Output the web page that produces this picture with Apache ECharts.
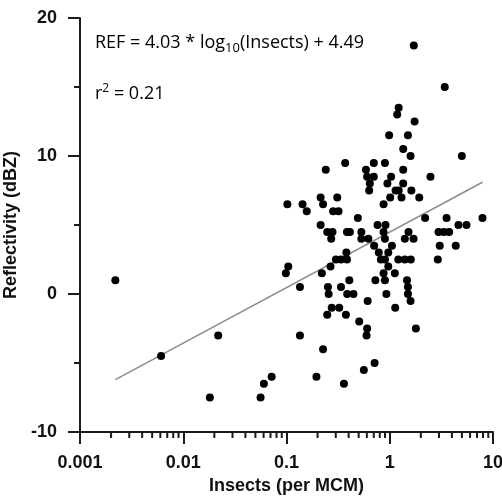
<!DOCTYPE html>
<html>
<head>
<meta charset="utf-8">
<script src="https://cdn.jsdelivr.net/npm/echarts@6/dist/echarts.min.js"></script>
<style>
  html, body { margin: 0; padding: 0; background: #fff; }
  #chart { width: 502px; height: 496px; }
</style>
</head>
<body>
<div id="chart"></div>
<script>
// insects per MCM (x) and reflectivity in dBZ (y)
const insects = [
  0.0022, 0.0061, 0.0218, 0.0181, 0.0561, 0.0604, 0.0718,
  0.370, 0.240, 0.588, 0.701, 0.604, 0.701, 0.641, 0.632, 0.102, 0.143, 0.157, 0.214, 0.226, 0.310,
  0.283, 0.319, 0.491, 0.214, 0.248, 0.279, 0.271, 0.385, 0.411, 0.531, 0.531, 0.621, 0.706, 0.380,
  0.301, 0.337, 0.385, 0.267, 0.104, 0.0986, 0.220, 0.135, 0.252, 0.337, 0.406, 0.726, 0.256, 0.387,
  0.445, 0.611, 0.274, 0.324, 0.248, 0.376, 0.506, 0.604, 0.596, 0.135, 0.226, 0.713, 0.561, 0.195, 0.360,
  1.71, 3.41, 1.22, 1.18, 1.74, 0.986, 1.50, 1.35, 1.59, 4.99, 0.898, 1.35, 1.03, 2.48, 0.949, 1.35,
  1.14, 1.22, 1.62, 1.01, 1.30, 1.93, 0.871, 2.20, 3.55, 7.91, 4.63, 5.54, 0.762, 0.910, 0.871, 1.52,
  2.97, 3.34, 3.76, 0.898, 1.40, 1.70, 1.05, 3.05, 4.36, 0.783, 0.968, 0.821, 0.898, 1.21, 1.40, 1.60,
  2.92, 0.968, 0.871, 1.12, 0.898, 1.47, 1.50, 1.50, 0.927, 1.59, 1.13, 1.79
]
const reflectivity = [
  1.0, -4.5, -3.0, -7.5, -7.5, -6.5, -6.0,
  9.5, 9.0, 9.0, 9.5, 8.5, 8.5, 8.0, 7.5, 6.5, 6.5, 6.0, 7.0, 6.5, 7.0,
  6.0, 6.0, 5.5, 5.0, 4.5, 4.5, 4.0, 4.5, 4.5, 4.5, 4.0, 4.0, 3.5, 3.0,
  2.5, 2.5, 2.5, 2.0, 2.0, 1.5, 1.5, 0.5, 0.5, 0.5, 1.0, 1.0, 0.0, 0.0,
  0.0, -0.5, -1.0, -1.0, -1.5, -1.5, -2.0, -2.5, -3.0, -3.0, -4.0, -5.0, -5.5, -6.0, -6.5,
  18.0, 15.0, 13.5, 13.0, 12.5, 11.5, 11.5, 10.5, 10.0, 10.0, 9.5, 9.0, 8.5, 8.5, 8.0, 8.0,
  7.5, 7.5, 7.5, 7.0, 7.0, 7.0, 6.5, 5.5, 5.5, 5.5, 5.0, 5.0, 5.0, 5.0, 4.5, 4.5,
  4.5, 4.5, 4.5, 4.0, 4.0, 4.0, 3.5, 3.5, 3.5, 3.0, 3.0, 2.5, 2.5, 2.5, 2.5, 2.5,
  2.5, 2.0, 1.5, 1.5, 1.0, 1.0, 0.5, 0.0, 0.0, -0.5, -1.0, -2.5
]

// regression line end points
const fitInsects = [0.0022, 7.9]
const fitRef = [-6.2, 8.1]

const yTicks = [-10, 0, 10, 20]
const xMinorTicks = [
  0.002, 0.003, 0.004, 0.005, 0.006, 0.007, 0.008, 0.009,
  0.02, 0.03, 0.04, 0.05, 0.06, 0.07, 0.08, 0.09,
  0.2, 0.3, 0.4, 0.5, 0.6, 0.7, 0.8, 0.9,
  2, 3, 4, 5, 6, 7, 8, 9
]

const axisColor = '#1a1a1a'
const labelFont = { color: '#111', fontSize: 18, fontWeight: 'bold', fontFamily: 'Liberation Sans, Arial, sans-serif' }
const noteFont = { fontFamily: 'Open Sans, sans-serif', fontWeight: 500, fill: '#000' }

const chart = echarts.init(document.getElementById('chart'))

const option = {
  animation: false,
  backgroundColor: '#fff',
  grid: { left: 80, right: 9, top: 18, bottom: 64, outerBoundsMode: 'none', containLabel: false },
  xAxis: {
    type: 'log',
    logBase: 10,
    min: 0.001,
    max: 10,
    splitNumber: 4,
    name: 'Insects (per MCM)',
    nameLocation: 'middle',
    nameGap: 45,
    nameTextStyle: labelFont,
    axisLine: { show: true, onZero: false, lineStyle: { color: axisColor, width: 2 } },
    axisTick: { show: true, inside: false, length: 12, lineStyle: { color: axisColor, width: 2 } },
    axisLabel: Object.assign({ margin: 22, formatter: v => String(parseFloat(Number(v).toPrecision(6))) }, labelFont),
    splitLine: { show: false }
  },
  yAxis: {
    type: 'value',
    min: yTicks[0],
    max: yTicks[yTicks.length - 1],
    interval: 10,
    name: 'Reflectivity (dBZ)',
    nameLocation: 'middle',
    nameGap: 55,
    nameTextStyle: labelFont,
    axisLine: { show: true, onZero: false, lineStyle: { color: axisColor, width: 2 } },
    axisTick: { show: true, inside: false, length: 12, lineStyle: { color: axisColor, width: 2 } },
    minorTick: { show: true, splitNumber: 2, length: 6, lineStyle: { color: axisColor, width: 2 } },
    axisLabel: Object.assign({ margin: 23 }, labelFont),
    splitLine: { show: false }
  },
  graphic: [
    {
      type: 'text',
      left: 95,
      top: 34,
      style: {
        text: '{a|REF = 4.03 * log}{s|10}{a|(Insects) + 4.49}',
        rich: {
          a: Object.assign({ fontSize: 18 }, noteFont),
          s: Object.assign({ fontSize: 13, padding: [10, 0, 0, 0] }, noteFont)
        }
      }
    },
    {
      type: 'text',
      left: 95,
      top: 83,
      style: {
        text: '{a|r}{p|2}{a| = 0.21}',
        rich: {
          a: Object.assign({ fontSize: 18 }, noteFont),
          p: Object.assign({ fontSize: 12, padding: [0, 0, 9, 0] }, noteFont)
        }
      }
    }
  ],
  series: [
    {
      type: 'line',
      data: fitInsects.map((x, i) => [x, fitRef[i]]),
      symbol: 'none',
      lineStyle: { color: '#8c8c8c', width: 1.5 },
      z: 1
    },
    {
      type: 'scatter',
      data: insects.map((x, i) => [x, reflectivity[i]]),
      symbol: 'circle',
      symbolSize: 8,
      itemStyle: { color: '#000', opacity: 1 },
      z: 3
    },
    {
      // minor ticks between the decades of the log axis
      type: 'custom',
      data: xMinorTicks.map(v => [v, yTicks[0]]),
      clip: false,
      silent: true,
      renderItem: (params, api) => {
        const p = api.coord([api.value(0), api.value(1)])
        return {
          type: 'line',
          shape: { x1: p[0], y1: p[1], x2: p[0], y2: p[1] + 6 },
          style: { stroke: axisColor, lineWidth: 2 }
        }
      },
      z: 2
    }
  ]
}

chart.setOption(option)
</script>
</body>
</html>
